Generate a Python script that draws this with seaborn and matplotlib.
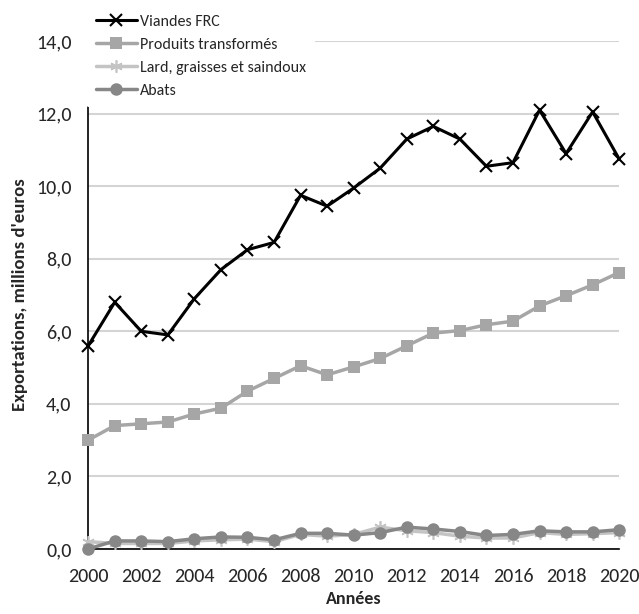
import numpy as np
import pandas as pd
import matplotlib
matplotlib.use("Agg")
import matplotlib.pyplot as plt
import seaborn as sns
from matplotlib.ticker import FuncFormatter, MultipleLocator

# Data
years = list(range(2000, 2021))
viandes = [5.6, 6.8, 6.0, 5.9, 6.9, 7.7, 8.25, 8.45, 9.75, 9.45, 9.95,
           10.5, 11.3, 11.65, 11.3, 10.55, 10.65, 12.1, 10.9, 12.05, 10.75]
produits = [3.0, 3.4, 3.45, 3.5, 3.72, 3.88, 4.35, 4.7, 5.05, 4.8, 5.02,
            5.25, 5.6, 5.95, 6.02, 6.18, 6.28, 6.7, 6.98, 7.28, 7.62]
lard = [0.2, 0.15, 0.15, 0.15, 0.22, 0.25, 0.27, 0.2, 0.4, 0.35, 0.4,
        0.6, 0.5, 0.45, 0.35, 0.3, 0.3, 0.45, 0.4, 0.42, 0.45]
abats = [0.0, 0.22, 0.22, 0.2, 0.28, 0.33, 0.32, 0.25, 0.43, 0.43, 0.38,
         0.45, 0.6, 0.55, 0.48, 0.37, 0.4, 0.5, 0.47, 0.47, 0.53]
series_names = ["Viandes FRC", "Produits transformés",
                "Lard, graisses et saindoux", "Abats"]

sns.set_style("white")
plt.rcParams['font.family'] = ['Carlito', 'DejaVu Sans']

fig = plt.figure(figsize=(6.39, 6.14), dpi=100)
ax = fig.add_axes([0.138, 0.106, 0.831, 0.827])

styles = [
    (viandes, dict(color='black', marker='x', markersize=9, markeredgewidth=1.5, linewidth=2.2)),
    (produits, dict(color='#a6a6a6', marker='s', markersize=8, markeredgewidth=0, linewidth=2.5)),
    (lard, dict(color='#c4c4c4', marker=(6, 2, 0), markersize=9, markeredgewidth=1.2, linewidth=2.5)),
    (abats, dict(color='#878787', marker='o', markersize=9, markeredgewidth=0, linewidth=2.5)),
]
for name, (vals, st) in zip(series_names, styles):
    sns.lineplot(x=years, y=vals, ax=ax, label=name, clip_on=False, zorder=3,
                 markeredgecolor=st['color'], **st)

ax.set_xlim(2000, 2020)
ax.set_ylim(0, 14)
ax.yaxis.set_major_locator(MultipleLocator(2))
ax.xaxis.set_major_locator(MultipleLocator(2))
ax.xaxis.set_minor_locator(MultipleLocator(1))
ax.yaxis.set_major_formatter(FuncFormatter(lambda v, p: f"{v:.1f}".replace('.', ',')))
ax.xaxis.set_major_formatter(FuncFormatter(lambda v, p: f"{int(v)}"))

ax.grid(axis='y', color='#d4d4d4', linewidth=1.5)
ax.set_axisbelow(True)
for s in ['top', 'right']:
    ax.spines[s].set_visible(False)
for s in ['left', 'bottom']:
    ax.spines[s].set_color('black')
    ax.spines[s].set_linewidth(1.2)

ax.tick_params(axis='both', which='both', direction='out', color='black', labelsize=14.5)
ax.tick_params(axis='y', length=6, width=1, pad=6)
ax.tick_params(axis='x', which='both', length=6, width=1, pad=8)

ax.set_xlabel('Années', fontsize=13, fontweight='bold', labelpad=4)
ax.set_ylabel("Exportations, millions d'euros", fontsize=13.5, fontweight='bold', labelpad=6)

leg = ax.legend(loc='upper left', bbox_to_anchor=(0.1346, 0.992), bbox_transform=fig.transFigure,
                frameon=True, framealpha=1, facecolor='white', edgecolor='white',
                fontsize=11.5, handlelength=2.6, handletextpad=0.15, labelspacing=0.55,
                borderpad=0.6, borderaxespad=0)
leg.set_zorder(10)
leg.get_frame().set_linewidth(0)

fig.savefig('out.png', dpi=100)
